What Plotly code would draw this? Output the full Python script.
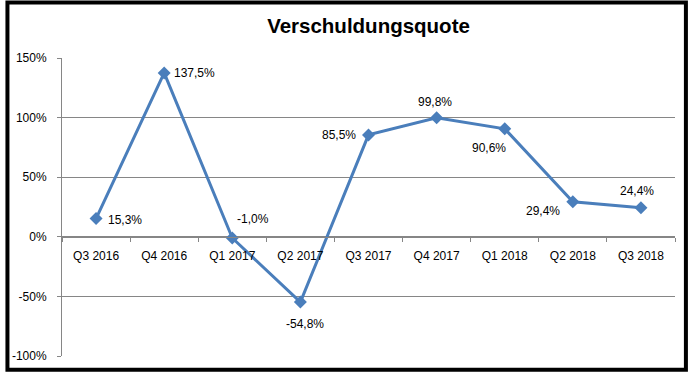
import plotly.graph_objects as go

categories = ["Q3 2016", "Q4 2016", "Q1 2017", "Q2 2017", "Q3 2017",
              "Q4 2017", "Q1 2018", "Q2 2018", "Q3 2018"]
values = [15.3, 137.5, -1.0, -54.8, 85.5, 99.8, 90.6, 29.4, 24.4]
y_tickvals = [-100, -50, 0, 50, 100, 150]
y_ticktext = ["-100%", "-50%", "0%", "50%", "100%", "150%"]
title_text = "Verschuldungsquote"

# label offsets (pixels) for each data label
label_dx = [29, 30, 21, 5, -30, -2, -16, -30, -4]
label_dy = [-1, 0, 19, -22, 0, 16, -19, -9, 17]

FONT = "Liberation Sans"
LINE_COLOR = "#4A7EBB"
GRID = "#868686"

fig = go.Figure()
fig.add_trace(go.Scatter(
    x=categories, y=values, mode="lines+markers",
    line=dict(color=LINE_COLOR, width=3),
    marker=dict(symbol="diamond", size=10, color=LINE_COLOR),
    showlegend=False, hoverinfo="skip",
))

for c, v, dx, dy in zip(categories, values, label_dx, label_dy):
    fig.add_annotation(
        x=c, y=v, text=f"{v:.1f}%".replace(".", ","),
        showarrow=False, xshift=dx, yshift=dy,
        font=dict(family=FONT, size=12, color="#000000"),
    )

W, H = 691, 375
L, R, T, B = 57, 16, 58, 16
pw, ph = W - L - R, H - T - B

def px_x(p):
    return (p - L) / pw

def px_y(p):
    return 1 - (p - T) / ph

fig.add_shape(type="rect", xref="paper", yref="paper",
              x0=px_x(2), x1=px_x(686), y0=px_y(373), y1=px_y(2),
              line=dict(color="#000000", width=4), fillcolor="rgba(0,0,0,0)",
              layer="above")

fig.update_layout(
    width=W, height=H,
    margin=dict(l=L, r=R, t=T, b=B),
    paper_bgcolor="white", plot_bgcolor="white",
    title=dict(text=f"<b>{title_text}</b>", x=0.5, xanchor="center",
               xref="paper", y=1 - 25.5 / H, yanchor="middle",
               font=dict(family=FONT, size=20.5, color="#000000")),
    xaxis=dict(
        type="category", anchor="free", position=0.4,
        showline=True, linecolor=GRID, linewidth=1,
        ticks="outside", tickson="boundaries", ticklen=4, tickcolor=GRID,
        showgrid=False, zeroline=False,
        tickfont=dict(family=FONT, size=12, color="#000000"),
        ticklabelstandoff=8,
        range=[-0.5, len(categories) - 0.5],
        fixedrange=True,
    ),
    yaxis=dict(
        range=[-100, 150], tickvals=y_tickvals, ticktext=y_ticktext,
        showgrid=True, gridcolor=GRID, gridwidth=1,
        showline=True, linecolor=GRID, linewidth=1,
        ticks="outside", ticklen=4, tickcolor=GRID,
        zeroline=False,
        tickfont=dict(family=FONT, size=12, color="#000000"),
        ticklabelstandoff=8,
        fixedrange=True,
    ),
)

fig.write_html(
    "out.html",
    config={"displayModeBar": False},
    post_script="document.body.style.margin='0';document.body.style.overflow='hidden';",
)
